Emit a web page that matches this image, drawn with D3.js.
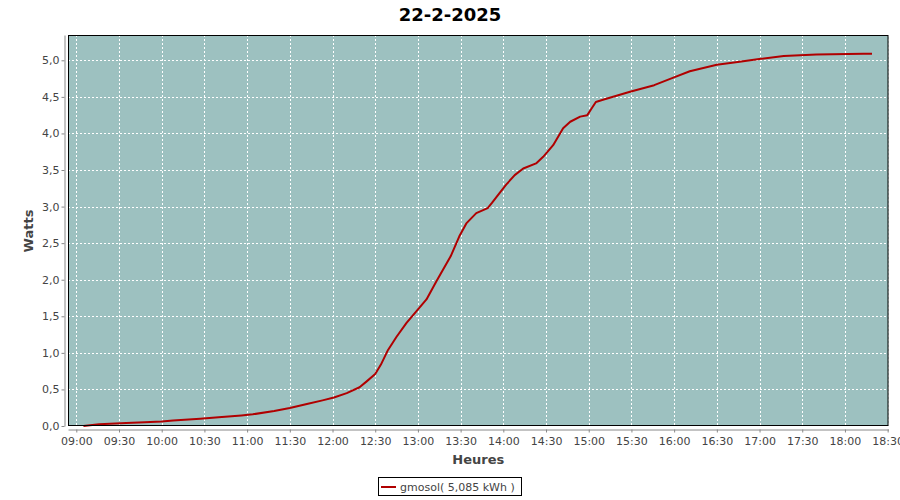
<!DOCTYPE html>
<html><head><meta charset="utf-8">
<script src="https://cdn.jsdelivr.net/npm/d3@7/dist/d3.min.js"></script>
<style>body{margin:0;background:#fff}svg{display:block}</style>
</head><body>
<svg id="c" width="900" height="500"></svg>
<script>
const title = "22-2-2025";
const seriesName = "gmosol( 5,085 kWh )";
const times = ["09:05","09:16","09:35","09:48","10:00","10:08","10:27","10:40","10:56","11:04","11:19","11:30","11:42","11:53","12:01","12:10","12:19","12:24","12:30","12:34","12:39","12:45","12:52","12:59","13:06","13:13","13:23","13:29","13:34","13:41","13:49","13:52","13:58","14:02","14:08","14:14","14:23","14:28","14:35","14:42","14:47","14:54","14:59","15:02","15:05","15:10","15:29","15:46","15:59","16:11","16:30","16:46","17:01","17:17","17:40","18:13","18:19"];
const values = [0.00,0.025,0.04,0.05,0.06,0.075,0.10,0.12,0.145,0.16,0.205,0.245,0.30,0.35,0.39,0.45,0.53,0.61,0.71,0.84,1.04,1.22,1.41,1.57,1.73,1.98,2.32,2.59,2.77,2.91,2.98,3.05,3.20,3.30,3.43,3.52,3.59,3.68,3.84,4.07,4.16,4.23,4.25,4.34,4.43,4.46,4.57,4.66,4.76,4.85,4.94,4.98,5.02,5.06,5.08,5.09,5.09];
const xTicks = ["09:00","09:30","10:00","10:30","11:00","11:30","12:00","12:30","13:00","13:30","14:00","14:30","15:00","15:30","16:00","16:30","17:00","17:30","18:00","18:30"];
const yTicks = [0,0.5,1.0,1.5,2.0,2.5,3.0,3.5,4.0,4.5,5.0];
const xDomain = ["08:54:10","18:30:36"];
const yMax = 5.346;

const parse = d3.timeParse("%H:%M");
const parseS = d3.timeParse("%H:%M:%S");
const data = times.map((t,i)=>({t:parse(t), v:values[i]}));

const L=68, R=888.5, T=35, B=426;
const svg = d3.select("#c");
const x = d3.scaleTime().domain(xDomain.map(parseS)).range([L,R]);
const y = d3.scaleLinear().domain([0,yMax]).range([B,T]);
const fmtY = d => d3.format(".1f")(d).replace(".",",");
const font = "DejaVu Sans, sans-serif";

svg.append("text").attr("x",450).attr("y",21).attr("text-anchor","middle")
  .attr("font-family",font).attr("font-weight","bold").attr("font-size",18).attr("fill","#000").text(title);

svg.append("rect").attr("x",L).attr("y",T).attr("width",R-L).attr("height",B-T).attr("fill","#9dc1c0");

// grid
const g = svg.append("g");
g.selectAll(".vx").data(xTicks.map(parse)).join("line")
  .attr("x1",d=>Math.round(x(d))+0.5).attr("x2",d=>Math.round(x(d))+0.5)
  .attr("y1",T).attr("y2",B).attr("stroke","#fff").attr("stroke-width",1).attr("stroke-dasharray","2,2");
g.selectAll(".hy").data(yTicks).join("line")
  .attr("y1",d=>Math.round(y(d))+0.5).attr("y2",d=>Math.round(y(d))+0.5)
  .attr("x1",L).attr("x2",R).attr("stroke","#fff").attr("stroke-width",1).attr("stroke-dasharray","2,2");

// line
const line = d3.line().x(d=>x(d.t)).y(d=>y(d.v));
svg.append("path").datum(data).attr("d",line).attr("fill","none")
  .attr("stroke","#b00000").attr("stroke-width",2).attr("stroke-linejoin","round");

svg.append("rect").attr("x",L+0.5).attr("y",T+0.5).attr("width",R-L-1).attr("height",B-T-1)
  .attr("fill","none").attr("stroke","#000").attr("stroke-width",1);

// axes
const xAxis = d3.axisBottom(x).tickValues(xTicks.map(parse)).tickFormat(d3.timeFormat("%H:%M")).tickSize(3).tickSizeOuter(0);
const xa = svg.append("g").attr("transform","translate(0,429.5)").call(xAxis);
xa.select(".domain").attr("stroke","#888");
xa.selectAll(".tick line").attr("stroke","#888");
xa.selectAll("text").attr("font-family",font).attr("font-size",11).attr("fill","#444").attr("dy","0.9em");

const yAxis = d3.axisLeft(y).tickValues(yTicks).tickFormat(fmtY).tickSize(3).tickSizeOuter(0);
const ya = svg.append("g").attr("transform","translate(64.5,0)").call(yAxis);
ya.select(".domain").attr("stroke","#888");
ya.selectAll(".tick line").attr("stroke","#888");
ya.selectAll("text").attr("font-family",font).attr("font-size",11).attr("fill","#444").attr("x",-5);

svg.append("text").attr("x",(L+R)/2).attr("y",464).attr("text-anchor","middle")
  .attr("font-family",font).attr("font-weight","bold").attr("font-size",13).attr("fill","#444").text("Heures");
svg.append("text").attr("transform","translate(33,231) rotate(-90)").attr("text-anchor","middle")
  .attr("font-family",font).attr("font-weight","bold").attr("font-size",13).attr("fill","#444").text("Watts");

// legend
svg.append("rect").attr("x",378.5).attr("y",477.5).attr("width",143).attr("height",18)
  .attr("fill","#fff").attr("stroke","#000").attr("stroke-width",1);
svg.append("line").attr("x1",381).attr("x2",396).attr("y1",487).attr("y2",487).attr("stroke","#b00000").attr("stroke-width",2);
svg.append("text").attr("x",400).attr("y",491).attr("font-family",font).attr("font-size",11).attr("fill","#444").text(seriesName);
</script>
</body></html>
